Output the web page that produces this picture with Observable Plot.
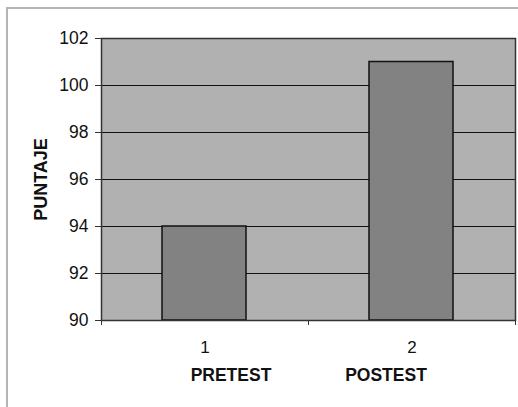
<!DOCTYPE html>
<html>
<head>
<meta charset="utf-8">
<script src="https://cdn.jsdelivr.net/npm/d3@7"></script>
<script src="https://cdn.jsdelivr.net/npm/@observablehq/plot@0.6"></script>
<style>
  html, body { margin: 0; padding: 0; background: #fff; }
  #wrap { position: relative; width: 518px; height: 407px; overflow: hidden; }
  #wrap::after { content: ""; position: absolute; left: 6px; top: 7px; right: -10px; bottom: -10px;
    border: 2px solid #b4b4b4; pointer-events: none; }
  svg { font-family: "Liberation Sans", Arial, sans-serif; }
</style>
</head>
<body>
<div id="wrap"></div>
<script>
const positions = [1, 2];
const tickLabels = ["1", "2"];
const names = ["PRETEST", "POSTEST"];
const values = [94, 101];
const yTicks = [90, 92, 94, 96, 98, 100, 102];
const yDomain = [90, 102];

const rows = positions.map((p, i) => ({pos: p, label: tickLabels[i], name: names[i], value: values[i]}));

const chart = Plot.plot({
  width: 518,
  height: 407,
  marginLeft: 101,
  marginRight: 3,
  marginTop: 38,
  marginBottom: 87,
  style: {fontFamily: "'Liberation Sans', Arial, sans-serif", fontSize: "17px", color: "#111", background: "transparent"},
  x: {type: "linear", domain: [0.5, 2.5]},
  y: {domain: yDomain},
  marks: [
    Plot.frame({fill: "#b1b1b1", stroke: "none"}),
    Plot.gridY(yTicks, {stroke: "#111", strokeOpacity: 1, strokeWidth: 1.2}),
    Plot.rectY(rows, {x1: d => d.pos - 0.5, x2: d => d.pos + 0.5, y1: yDomain[0], y2: "value",
      insetLeft: 61, insetRight: 62, fill: "#828282", stroke: "#111", strokeWidth: 1.5}),
    Plot.frame({stroke: "#333", strokeWidth: 1.5}),
    Plot.axisY({ticks: yTicks, tickSize: 6, tickPadding: 7, tickFormat: d => String(d),
      label: "PUNTAJE", labelAnchor: "center", labelOffset: 67, labelArrow: "none",
      fontSize: 17.5, stroke: "#333"}),
    Plot.axisX({ticks: positions, tickSize: 0, tickPadding: 20, tickFormat: (d, i) => tickLabels[i], label: null, fontSize: 17}),
    Plot.axisX({ticks: [0.5, 1.5, 2.5], tickSize: 5, tickFormat: () => "", label: null, stroke: "#333"}),
    Plot.text(rows.filter((d, i) => i === 0), {x: "pos", text: "name", frameAnchor: "bottom", dy: 60, dx: 26,
      fontWeight: "bold", fontSize: 17.5, fill: "#111"}),
    Plot.text(rows.filter((d, i) => i === 1), {x: "pos", text: "name", frameAnchor: "bottom", dy: 60, dx: -26,
      fontWeight: "bold", fontSize: 17.5, fill: "#111"})
  ]
});
document.getElementById("wrap").appendChild(chart);
// bold rotated y label
chart.querySelectorAll("[aria-label='y-axis label'] text").forEach(t => {
  t.setAttribute("font-weight", "bold");
  t.style.fontSize = "18px";
});
</script>
</body>
</html>
